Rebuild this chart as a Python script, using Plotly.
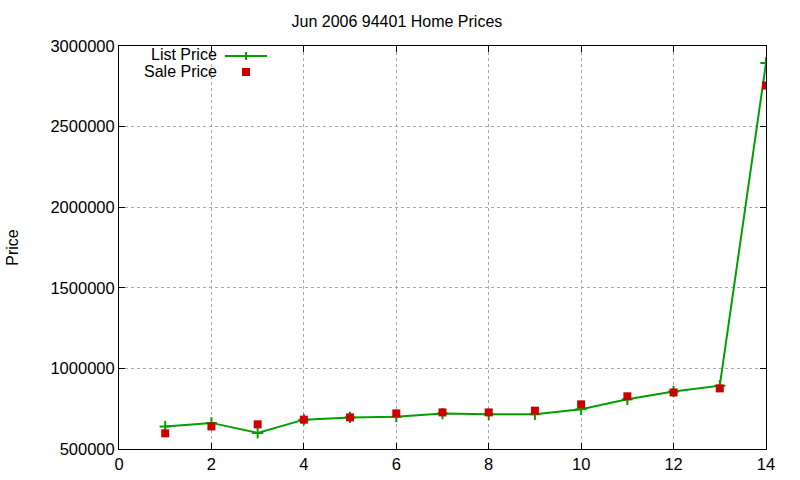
import plotly.graph_objects as go

x_values = [1, 2, 3, 4, 5, 6, 7, 8, 9, 10, 11, 12, 13, 14]
list_price = [640000, 662000, 600000, 682000, 696000, 700000, 720000, 715000, 715000, 746000, 808000, 856000, 893000, 2894000]
sale_price = [597000, 640000, 653000, 682000, 696000, 721000, 727000, 727000, 738000, 777000, 827000, 851000, 876000, 2755000]

x_ticks = [0, 2, 4, 6, 8, 10, 12, 14]
y_ticks = [500000, 1000000, 1500000, 2000000, 2500000, 3000000]

GREEN = "#00a000"
RED = "#cc0000"
FONT = "Liberation Sans, Arial, sans-serif"

fig = go.Figure()
fig.add_trace(go.Scatter(
    x=x_values, y=list_price, mode="lines+markers", name="List Price",
    line=dict(color=GREEN, width=2),
    marker=dict(symbol="cross-thin", size=8, line=dict(color=GREEN, width=2)),
))
fig.add_trace(go.Scatter(
    x=x_values, y=sale_price, mode="markers", name="Sale Price",
    marker=dict(symbol="square", size=8, color=RED),
))

L, R, T, B = 119, 34, 46, 31
W, H = 800, 480
pw, ph = W - L - R, H - T - B

def px(xp):
    return (xp - L) / pw

def py(yp):
    return (H - B - yp) / ph

# custom gnuplot-style legend (text left, sample right)
fig.add_annotation(x=px(219), y=py(55), xref="paper", yref="paper", text="List Price",
                   showarrow=False, xanchor="right", yanchor="middle",
                   font=dict(family=FONT, size=16, color="black"))
fig.add_annotation(x=px(219), y=py(71), xref="paper", yref="paper", text="Sale Price",
                   showarrow=False, xanchor="right", yanchor="middle",
                   font=dict(family=FONT, size=16, color="black"))
fig.add_shape(type="line", xref="paper", yref="paper", x0=px(225), x1=px(267), y0=py(56), y1=py(56),
              line=dict(color=GREEN, width=2))
fig.add_shape(type="line", xref="paper", yref="paper", x0=px(246), x1=px(246), y0=py(52), y1=py(60),
              line=dict(color=GREEN, width=2))
fig.add_shape(type="rect", xref="paper", yref="paper", x0=px(242), x1=px(250), y0=py(68), y1=py(76),
              line=dict(width=0), fillcolor=RED)

axis_common = dict(
    showline=True, linecolor="black", linewidth=1, mirror="ticks",
    ticks="inside", ticklen=6, tickcolor="black", tickwidth=1,
    showgrid=True, gridcolor="#a8a8a8", griddash="dot", gridwidth=1,
    zeroline=False, automargin=False,
    tickfont=dict(family=FONT, size=16.5, color="black"),
)

fig.update_xaxes(range=[0, 14], tickvals=x_ticks, ticktext=[str(v) for v in x_ticks], **axis_common)
fig.update_yaxes(range=[500000, 3000000], tickvals=y_ticks, ticktext=[str(v) for v in y_ticks],
                 title=dict(text="Price", font=dict(family=FONT, size=16, color="black"), standoff=27),
                 **axis_common)

fig.update_layout(
    width=W, height=H,
    margin=dict(l=L, r=R, t=T, b=B, autoexpand=False),
    paper_bgcolor="white", plot_bgcolor="white",
    showlegend=False, hovermode=False,
    title=dict(text="Jun 2006 94401 Home Prices", x=px(440), xanchor="center", y=1 - 21 / H, yanchor="middle",
               font=dict(family=FONT, size=16, color="black")),
    font=dict(family=FONT),
)

fig.write_html("out.html")
